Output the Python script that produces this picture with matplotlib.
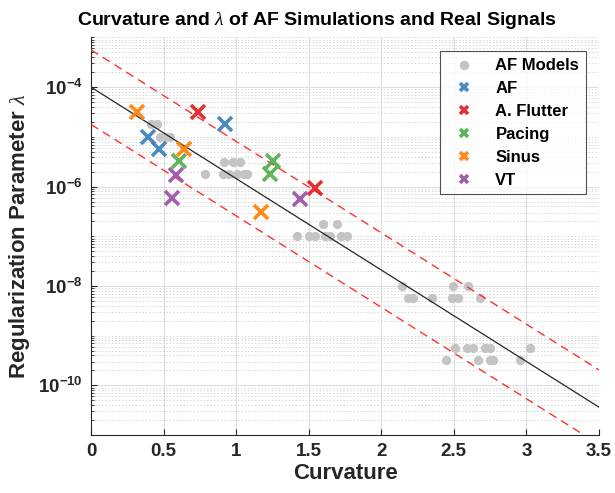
import numpy as np
import matplotlib
matplotlib.use("Agg")
import matplotlib.pyplot as plt
from matplotlib.ticker import FixedLocator, LogLocator, NullFormatter, FixedFormatter

plt.rcParams["font.family"] = ["Liberation Sans", "DejaVu Sans"]
plt.rcParams["mathtext.fontset"] = "custom"
plt.rcParams["mathtext.bf"] = "Liberation Sans:bold"
plt.rcParams["mathtext.rm"] = "Liberation Sans:bold"
plt.rcParams["mathtext.it"] = "Liberation Serif:italic"

# AF model simulations (grey dots)
model_curv = [0.414, 0.455, 0.476, 0.51, 0.544,
              0.786, 0.908, 0.953, 1.004, 1.057, 1.077, 0.919, 0.977, 1.027,
              1.597, 1.693, 1.418, 1.505, 1.54, 1.61, 1.645, 1.72, 1.762,
              2.141, 2.497, 2.600,
              2.187, 2.221, 2.348, 2.486, 2.531, 2.681,
              2.509, 2.589, 2.635, 2.715, 2.75, 3.025,
              2.447, 2.669, 2.75, 2.773, 2.956]
model_lam = [1.78e-5, 1.78e-5, 1e-5, 1e-5, 1e-5,
             1.78e-6, 1.78e-6, 1.78e-6, 1.78e-6, 1.78e-6, 1.78e-6, 3.16e-6, 3.16e-6, 3.16e-6,
             1.78e-7, 1.78e-7, 1e-7, 1e-7, 1e-7, 1e-7, 1e-7, 1e-7, 1e-7,
             1e-8, 1e-8, 1e-8,
             5.62e-9, 5.62e-9, 5.62e-9, 5.62e-9, 5.62e-9, 5.62e-9,
             5.62e-10, 5.62e-10, 5.62e-10, 5.62e-10, 5.62e-10, 5.62e-10,
             3.16e-10, 3.16e-10, 3.16e-10, 3.16e-10, 3.16e-10]

# real signals
af_curv = [0.391, 0.468, 0.923]
af_lam = [1.0e-5, 5.6e-6, 1.8e-5]
flutter_curv = [0.74, 1.544]
flutter_lam = [3.2e-5, 9.5e-7]
pacing_curv = [0.609, 1.256, 1.234]
pacing_lam = [3.3e-6, 3.3e-6, 1.8e-6]
sinus_curv = [0.315, 0.643, 1.17]
sinus_lam = [3.1e-5, 5.6e-6, 3.1e-7]
vt_curv = [0.584, 0.561, 1.44]
vt_lam = [1.7e-6, 5.8e-7, 5.6e-7]

# log-linear fit and band (decades)
fit_intercept = -4.0
fit_slope = -1.84
band = 0.75

fig = plt.figure(figsize=(6.15, 4.93), dpi=100)
ax = fig.add_axes([0.148, 0.1176, 0.826, 0.8064])

ax.scatter(model_curv, model_lam, s=32, color="#c4c4c4", label="AF Models", zorder=3)

xf = np.array([0, 3.5])
ax.plot(xf, 10 ** (fit_intercept + fit_slope * xf), color="#262626", lw=0.9, zorder=4)
ax.plot(xf, 10 ** (fit_intercept + band + fit_slope * xf), color="#ff3030", lw=1.0,
        ls=(0, (6, 4)), zorder=4)
ax.plot(xf, 10 ** (fit_intercept - band + fit_slope * xf), color="#ff3030", lw=1.0,
        ls=(0, (6, 4)), zorder=4)

groups = [
    (af_curv, af_lam, "#377eb8", "AF"),
    (flutter_curv, flutter_lam, "#e41a1c", "A. Flutter"),
    (pacing_curv, pacing_lam, "#4daf4a", "Pacing"),
    (sinus_curv, sinus_lam, "#ff7f00", "Sinus"),
    (vt_curv, vt_lam, "#984ea3", "VT"),
]
for cx, cy, col, lab in groups:
    ax.plot(cx, cy, ls="none", marker="x", ms=10, mew=2.6, color=col, alpha=0.9,
            label=lab, zorder=5)

ax.set_yscale("log")
ax.set_xlim(0, 3.5)
ax.set_ylim(1e-11, 1e-3)

ax.set_xticks(np.arange(0, 3.51, 0.5))
ax.set_xticklabels(["0", "0.5", "1", "1.5", "2", "2.5", "3", "3.5"])

major = [1e-10, 1e-8, 1e-6, 1e-4]
ax.yaxis.set_major_locator(FixedLocator(major))
ax.yaxis.set_major_formatter(FixedFormatter([r"$\mathbf{10^{-10}}$", r"$\mathbf{10^{-8}}$",
                                             r"$\mathbf{10^{-6}}$", r"$\mathbf{10^{-4}}$"]))
ax.yaxis.set_minor_locator(LogLocator(base=10, subs=np.arange(1, 10), numticks=30))
ax.yaxis.set_minor_formatter(NullFormatter())

ax.grid(True, which="major", color="#dedede", lw=0.8)
ax.grid(True, which="minor", axis="y", color="#d6d6d6", lw=0.7, ls=(0, (1.5, 2)))
ax.set_axisbelow(True)

for side in ["top", "right"]:
    ax.spines[side].set_visible(False)
for side in ["left", "bottom"]:
    ax.spines[side].set_color("#262626")
ax.tick_params(direction="in", which="both", colors="#262626", labelsize=13.5)
ax.tick_params(which="minor", length=2.5)
ax.tick_params(which="major", length=4, pad=6)
for t in ax.get_xticklabels():
    t.set_fontweight("bold")

ax.set_xlabel("Curvature", fontsize=16, fontweight="bold", color="#262626", labelpad=2)
ax.set_ylabel(r"Regularization Parameter $\lambda$", fontsize=16, fontweight="bold",
              color="#262626", labelpad=4)
fig.text(0.516, 0.958, r"Curvature and $\lambda$ of AF Simulations and Real Signals",
         fontsize=14, fontweight="bold", ha="center", va="center")

leg = ax.legend(loc="upper right", bbox_to_anchor=(0.974, 0.966), borderaxespad=0,
                fontsize=12, markerscale=0.6, frameon=True, fancybox=False,
                edgecolor="#262626", handlelength=2.0, borderpad=0.4,
                labelspacing=0.48, handletextpad=0.9)
leg.get_frame().set_linewidth(0.8)
leg.legend_handles[0].set_sizes([34])
for t in leg.get_texts():
    t.set_fontweight("bold")

fig.savefig("out.png", dpi=100)
